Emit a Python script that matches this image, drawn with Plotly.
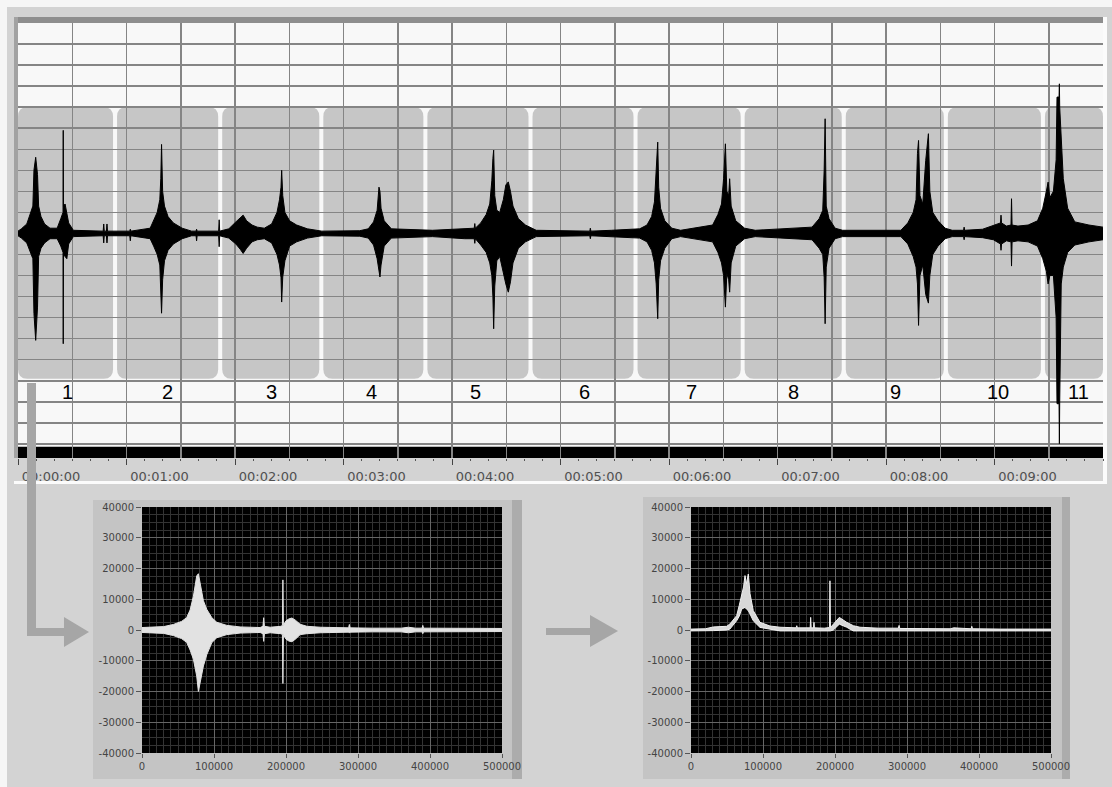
import plotly.graph_objects as go

W, H = 1112, 787

# ---------------- top chart: waveform envelope (time in minutes, amplitude in divisions)
top_t = [0.000, 0.031, 0.081, 0.114, 0.137, 0.147, 0.163, 0.180, 0.190, 0.212, 0.245, 0.295,
         0.361, 0.394, 0.410, 0.415, 0.417, 0.419, 0.434, 0.450, 0.467, 0.510,
         0.785, 0.790, 0.795, 0.815, 0.820, 0.825, 1.030, 1.035, 1.040,
         1.218, 1.250, 1.283, 1.307, 1.316, 1.323, 1.333, 1.350, 1.383, 1.432, 1.513, 1.600,
         1.641, 1.646, 1.651, 1.849, 1.854, 1.859,
         1.943, 2.008, 2.048, 2.075, 2.107, 2.157, 2.205, 2.270,
         2.338, 2.387, 2.410, 2.424, 2.430, 2.440, 2.460, 2.503, 2.568, 2.667, 2.800,
         3.150, 3.228, 3.277, 3.310, 3.327, 3.336, 3.346, 3.375, 3.441, 3.820,
         4.117, 4.205, 4.210, 4.215, 4.265, 4.315, 4.348, 4.367, 4.377, 4.384, 4.394, 4.413,
         4.440, 4.473, 4.496, 4.519, 4.539, 4.562, 4.612, 4.677, 4.776,
         5.270, 5.275, 5.280, 5.470,
         5.730, 5.797, 5.840, 5.866, 5.882, 5.896, 5.905, 5.922, 5.961, 6.026, 6.107,
         6.402, 6.451, 6.484, 6.503, 6.520, 6.533, 6.550, 6.559, 6.573, 6.615, 6.697, 6.795,
         7.318, 7.384, 7.417, 7.430, 7.439, 7.449, 7.475, 7.531, 7.600,
         8.137, 8.201, 8.251, 8.277, 8.290, 8.300, 8.313, 8.339, 8.366, 8.391, 8.404, 8.431,
         8.480, 8.545, 8.610,
         8.715, 8.720, 8.725, 8.890, 8.990, 9.055, 9.060, 9.065, 9.110, 9.152, 9.157, 9.162,
         9.216, 9.310,
         9.396, 9.445, 9.478, 9.494, 9.510, 9.543, 9.568, 9.576, 9.595, 9.598, 9.601, 9.615,
         9.634, 9.674, 9.740, 9.870, 10.000]
top_hi = [0.11, 0.22, 0.45, 1.0, 1.3, 3.0, 3.62, 2.8, 1.3, 0.8, 0.45, 0.25,
          0.25, 0.7, 1.0, 1.0, 4.9, 1.3, 1.4, 1.0, 0.5, 0.15,
          0.11, 0.45, 0.11, 0.11, 0.45, 0.11, 0.11, 0.2, 0.11,
          0.25, 0.6, 1.0, 1.6, 2.6, 4.23, 2.0, 1.3, 0.8, 0.5, 0.25, 0.11,
          0.11, 0.2, 0.11, 0.11, 0.65, 0.11,
          0.22, 0.55, 0.75, 0.87, 0.6, 0.4, 0.3, 0.25,
          0.45, 1.0, 1.6, 2.2, 3.0, 1.8, 1.0, 0.6, 0.4, 0.22, 0.11,
          0.13, 0.22, 0.55, 1.1, 2.2, 2.0, 1.2, 0.6, 0.22, 0.15,
          0.25, 0.25, 0.47, 0.25, 0.5, 0.9, 1.4, 2.5, 3.56, 3.96, 1.8, 1.1,
          1.0, 1.6, 2.3, 2.45, 2.0, 1.3, 0.7, 0.4, 0.15,
          0.11, 0.25, 0.11, 0.15,
          0.22, 0.4, 0.8, 1.5, 2.75, 4.34, 2.2, 1.2, 0.6, 0.25, 0.15,
          0.4, 0.9, 1.4, 2.6, 4.26, 2.0, 1.8, 2.6, 1.3, 0.6, 0.25, 0.15,
          0.3, 0.7, 1.1, 3.0, 5.45, 1.3, 0.7, 0.25, 0.15,
          0.15, 0.5, 1.0, 1.6, 3.8, 4.42, 1.8, 1.4, 3.47, 4.74, 2.0, 1.0,
          0.6, 0.25, 0.15,
          0.15, 0.3, 0.15, 0.2, 0.4, 0.5, 0.87, 0.5, 0.35, 0.4, 1.65, 0.4,
          0.35, 0.4,
          0.6, 1.2, 2.0, 2.44, 1.7, 2.0, 3.5, 6.48, 6.48, 7.11, 6.0, 4.27,
          2.6, 1.2, 0.55, 0.4, 0.3]
top_lo = [-0.11, -0.22, -0.45, -0.9, -1.2, -3.8, -5.08, -3.5, -1.1, -0.7, -0.45, -0.25,
          -0.25, -0.6, -0.9, -0.9, -5.24, -1.0, -1.1, -1.2, -0.5, -0.15,
          -0.11, -0.45, -0.11, -0.11, -0.45, -0.11, -0.11, -0.35, -0.11,
          -0.25, -0.6, -1.0, -1.5, -2.6, -3.79, -2.2, -1.3, -0.8, -0.5, -0.25, -0.11,
          -0.11, -0.35, -0.11, -0.11, -0.63, -0.11,
          -0.22, -0.5, -0.75, -0.95, -0.7, -0.4, -0.3, -0.25,
          -0.45, -1.0, -1.5, -2.1, -3.26, -2.07, -1.3, -0.6, -0.4, -0.22, -0.11,
          -0.13, -0.22, -0.55, -1.2, -1.7, -2.07, -1.5, -0.6, -0.22, -0.15,
          -0.25, -0.25, -0.47, -0.25, -0.55, -0.9, -1.4, -2.0, -3.0, -4.53, -2.5, -1.3,
          -1.1, -1.9, -2.4, -2.79, -2.3, -1.4, -0.7, -0.4, -0.15,
          -0.11, -0.25, -0.11, -0.15,
          -0.22, -0.4, -0.8, -1.4, -2.4, -4.05, -2.2, -1.3, -0.7, -0.25, -0.15,
          -0.4, -0.9, -1.4, -2.0, -3.5, -1.9, -2.2, -2.79, -1.4, -0.6, -0.25, -0.15,
          -0.3, -0.7, -1.0, -2.1, -4.29, -1.6, -0.7, -0.25, -0.15,
          -0.15, -0.5, -1.1, -1.6, -2.4, -4.37, -2.0, -1.5, -2.9, -3.31, -2.0, -1.0,
          -0.6, -0.25, -0.15,
          -0.15, -0.3, -0.15, -0.2, -0.3, -0.5, -0.8, -0.5, -0.35, -0.4, -1.55, -0.4,
          -0.35, -0.4,
          -0.6, -1.2, -1.8, -2.4, -2.0, -2.0, -4.0, -8.09, -8.09, -9.99, -8.0, -2.4,
          -1.6, -0.9, -0.55, -0.4, -0.3]

seg_start = [0.0, 0.913, 1.882, 2.814, 3.773, 4.742, 5.710, 6.697, 7.629, 8.570, 9.465]
seg_end = [0.876, 1.845, 2.777, 3.736, 4.705, 5.673, 6.661, 7.592, 8.533, 9.428, 10.0]
seg_labels = ["1", "2", "3", "4", "5", "6", "7", "8", "9", "10", "11"]
seg_label_t = [0.452, 1.375, 2.334, 3.256, 4.216, 5.221, 6.208, 7.150, 8.090, 9.036, 9.770]
seg_top, seg_bottom, seg_label_y = 6.0, -6.9, -7.55

time_ticks = [0, 1, 2, 3, 4, 5, 6, 7, 8, 9]
time_tick_text = ["00:00:00", "00:01:00", "00:02:00", "00:03:00", "00:04:00",
                  "00:05:00", "00:06:00", "00:07:00", "00:08:00", "00:09:00"]

# ---------------- lower left: raw waveform of segment 1 (samples, amplitude)
wave_x = [0, 20000, 30000, 43500, 55000, 62000, 66800, 71400, 74000, 76000, 78300, 80700,
          83000, 85300, 90000, 97000, 103900, 117800, 136300, 164000, 168000, 169000, 170000,
          178000, 193000, 195000, 195700, 196400, 200000, 204000, 208200, 213000, 219700,
          229000, 247500, 275400, 287000, 288000, 289000, 320000, 360000, 370000, 380000,
          389000, 390000, 391000, 420000, 460000, 500000]
wave_hi = [800, 900, 1100, 1800, 2800, 4000, 6500, 11000, 14500, 17600, 18300, 15000,
           12000, 9500, 6700, 4000, 2500, 1500, 1000, 800, 1200, 4000, 1200,
           900, 1200, 1500, 16300, 1500, 3000, 3600, 3900, 3200, 1850,
           1200, 900, 700, 700, 1800, 700, 600, 600, 900, 600,
           600, 1500, 600, 600, 500, 500]
wave_lo = [-800, -900, -1100, -1800, -2800, -4000, -6500, -9500, -12500, -15000, -20000, -17200,
           -14000, -11700, -8000, -4100, -2500, -1500, -1000, -800, -1200, -3700, -1200,
           -900, -1200, -1500, -17400, -1500, -3000, -3600, -3800, -3000, -1500,
           -1200, -900, -700, -700, -1000, -700, -600, -600, -900, -600,
           -600, -1200, -600, -600, -500, -500]

# ---------------- lower right: envelope of segment 1
env_x = [0, 20000, 31000, 49600, 54000, 63400, 67000, 70400, 73000, 75000, 77000, 79600,
         82000, 86500, 95800, 109700, 123600, 146000, 146900, 147800, 165500, 166200, 166900,
         170200, 170800, 171400, 185000, 192300, 193000, 193700, 197700, 206000, 216200,
         225500, 234700, 260000, 288000, 289000, 290000, 330000, 360000, 365000, 389000,
         390000, 391000, 430000, 500000]
env_hi = [300, 400, 1000, 1200, 1950, 4650, 8000, 11700, 14000, 17700, 15000, 18200,
          11800, 6300, 2500, 1300, 900, 700, 1400, 700, 700, 4100, 700,
          700, 2500, 700, 600, 800, 16000, 800, 1900, 4100, 2500,
          1400, 900, 600, 600, 1500, 500, 400, 400, 700, 400,
          1200, 400, 300, 300]
env_lo = [-300, -300, -200, 0, 300, 3000, 4500, 6800, 7200, 7350, 6800, 6300,
          5200, 3000, 850, 300, -300, -300, -300, -300, -300, -300, -300,
          -300, -300, -300, -300, -300, -300, -300, 0, 1900, 900,
          -300, -300, -300, -300, -300, -300, -300, -300, -300, -300,
          -300, -300, -300, -300]

amp_ticks = [-40000, -30000, -20000, -10000, 0, 10000, 20000, 30000, 40000]
amp_tick_text = [str(v) for v in amp_ticks]
sample_ticks = [0, 100000, 200000, 300000, 400000, 500000]
sample_tick_text = [str(v) for v in sample_ticks]

assert len(top_t) == len(top_hi) == len(top_lo)
assert len(wave_x) == len(wave_hi) == len(wave_lo)
assert len(env_x) == len(env_hi) == len(env_lo)


def fx(x):
    return x / W


def fy(y):
    return 1 - y / H


def prect(x0, y0, x1, y1, color, layer="below"):
    return dict(type="rect", xref="paper", yref="paper", x0=fx(x0), x1=fx(x1),
                y0=fy(y1), y1=fy(y0), fillcolor=color, line=dict(width=0), layer=layer)


def ppoly(points, color):
    d = "M " + " L ".join(f"{fx(x):.5f},{fy(y):.5f}" for x, y in points) + " Z"
    return dict(type="path", xref="paper", yref="paper", path=d, fillcolor=color,
                line=dict(width=0), layer="above")


fig = go.Figure()

# top waveform
fig.add_trace(go.Scatter(x=top_t, y=top_hi, mode="lines", line=dict(color="black", width=1),
                         hoverinfo="skip", showlegend=False, xaxis="x", yaxis="y"))
fig.add_trace(go.Scatter(x=top_t, y=top_lo, mode="lines", line=dict(color="black", width=1),
                         fill="tonexty", fillcolor="black",
                         hoverinfo="skip", showlegend=False, xaxis="x", yaxis="y"))
fig.add_trace(go.Scatter(x=[0, 10], y=[None, None], mode="lines", hoverinfo="skip",
                         showlegend=False, xaxis="x2", yaxis="y"))

# lower left waveform
fig.add_trace(go.Scatter(x=wave_x, y=wave_hi, mode="lines", line=dict(color="#e2e2e2", width=1),
                         hoverinfo="skip", showlegend=False, xaxis="x3", yaxis="y3"))
fig.add_trace(go.Scatter(x=wave_x, y=wave_lo, mode="lines", line=dict(color="#e2e2e2", width=1),
                         fill="tonexty", fillcolor="#e2e2e2",
                         hoverinfo="skip", showlegend=False, xaxis="x3", yaxis="y3"))

# lower right envelope
fig.add_trace(go.Scatter(x=env_x, y=env_hi, mode="lines", line=dict(color="#f0f0f0", width=1),
                         hoverinfo="skip", showlegend=False, xaxis="x4", yaxis="y4"))
fig.add_trace(go.Scatter(x=env_x, y=env_lo, mode="lines", line=dict(color="#f0f0f0", width=1),
                         fill="tonexty", fillcolor="#d8d8d8",
                         hoverinfo="skip", showlegend=False, xaxis="x4", yaxis="y4"))

shapes = []
# background frames
shapes.append(prect(7, 7, 1112, 787, "#d3d3d3"))
shapes.append(prect(15, 17, 1104, 23, "#8e8e8e"))
shapes.append(prect(14, 17, 18, 458, "#a2a2a2"))
shapes.append(prect(1103, 17, 1107, 483, "#fbfbfb"))
shapes.append(prect(14, 481, 1107, 484, "#fbfbfb"))
shapes.append(prect(18, 23, 1103, 458, "#f8f8f8"))
# lower-left panel
shapes.append(prect(93, 500, 522, 779, "#c4c4c4"))
shapes.append(prect(512, 500, 522, 779, "#acacac"))
shapes.append(prect(142, 507, 502, 753, "#000000"))
# lower-right panel
shapes.append(prect(643, 497, 1070, 779, "#c4c4c4"))
shapes.append(prect(1062, 497, 1070, 779, "#acacac"))
shapes.append(prect(691, 507, 1051, 753, "#000000"))

# rounded segment boxes in data coordinates (below grid)
rx, ry = 0.085, 0.45
for s, e in zip(seg_start, seg_end):
    y0, y1 = seg_bottom, seg_top
    d = (f"M {s+rx},{y0} L {e-rx},{y0} Q {e},{y0} {e},{y0+ry} L {e},{y1-ry} "
         f"Q {e},{y1} {e-rx},{y1} L {s+rx},{y1} Q {s},{y1} {s},{y1-ry} "
         f"L {s},{y0+ry} Q {s},{y0} {s+rx},{y0} Z")
    shapes.append(dict(type="path", xref="x", yref="y", path=d, fillcolor="#c6c6c6",
                       line=dict(width=0), layer="below"))
# black time bar
shapes.append(dict(type="rect", xref="x", yref="y", x0=0, x1=10, y0=-10.67, y1=-10.14,
                   fillcolor="black", line=dict(width=0), layer="below"))

# arrows
shapes.append(ppoly([(27, 383), (36, 383), (36, 628), (64, 628), (64, 617), (89, 632),
                     (64, 647), (64, 636), (27, 636)], "#a6a6a6"))
shapes.append(ppoly([(546, 628), (590, 628), (590, 615), (618, 631), (590, 647),
                     (590, 635), (546, 635)], "#a6a6a6"))

annotations = []
for lab, t in zip(seg_labels, seg_label_t):
    annotations.append(dict(x=t, y=seg_label_y, xref="x", yref="y", text=lab, showarrow=False,
                            font=dict(family="Liberation Sans", size=20, color="black")))

grid_top = "#858585"
low_font = dict(family="DejaVu Sans", size=10, color="#444444")


def low_x(domain, anchor):
    return dict(domain=domain, range=[0, 500000], anchor=anchor, automargin=False,
                tickmode="array", tickvals=sample_ticks, ticktext=sample_tick_text,
                ticks="outside", ticklen=4, tickcolor="#555555", tickfont=low_font,
                showgrid=True, gridcolor="#666666", gridwidth=1,
                minor=dict(tickmode="linear", tick0=0, dtick=10000, showgrid=True,
                           gridcolor="#333333", gridwidth=1, ticks=""),
                zeroline=False, showline=False, fixedrange=True)


def low_y(anchor):
    return dict(domain=[fy(753), fy(507)], range=[-40000, 40000], anchor=anchor,
                automargin=False,
                tickmode="array", tickvals=amp_ticks, ticktext=amp_tick_text,
                ticks="outside", ticklen=5, tickcolor="#555555", tickfont=low_font,
                showgrid=True, gridcolor="#666666", gridwidth=1,
                minor=dict(tickmode="linear", tick0=0, dtick=2500, showgrid=True,
                           gridcolor="#333333", gridwidth=1, ticks=""),
                zeroline=False, showline=False, fixedrange=True)


fig.update_layout(
    template="none",
    width=W, height=H, autosize=False,
    margin=dict(l=0, r=0, t=0, b=0, pad=0, autoexpand=False),
    paper_bgcolor="#f6f6f6", plot_bgcolor="rgba(0,0,0,0)",
    showlegend=False,
    shapes=shapes, annotations=annotations,
    xaxis=dict(domain=[fx(18), fx(1103)], range=[0, 10], anchor="y", automargin=False,
               showgrid=True, gridcolor=grid_top, gridwidth=1.5, tick0=0, dtick=0.5,
               showticklabels=False, ticks="", zeroline=False, showline=False, fixedrange=True),
    yaxis=dict(domain=[fy(458), fy(23)], range=[-10.67, 10], anchor="x", automargin=False,
               showgrid=True, gridcolor=grid_top, gridwidth=1.5, tick0=0, dtick=1,
               showticklabels=False, ticks="", zeroline=False, showline=False, fixedrange=True),
    xaxis2=dict(overlaying="x", anchor="y", side="bottom", range=[0, 10], showgrid=False,
                automargin=False,
                tickmode="array", tickvals=time_ticks, ticktext=time_tick_text,
                ticks="outside", ticklen=6, tickwidth=1, tickcolor="#444444",
                minor=dict(tickmode="linear", tick0=0, dtick=1 / 6, ticks="outside",
                           ticklen=2, tickwidth=1, tickcolor="#555555", showgrid=False),
                ticklabelshift=33, ticklabelstandoff=0,
                tickfont=dict(family="DejaVu Sans", size=13, color="#505050"),
                zeroline=False, showline=False, fixedrange=True),
    xaxis3=low_x([fx(142), fx(502)], "y3"),
    yaxis3=low_y("x3"),
    xaxis4=low_x([fx(691), fx(1051)], "y4"),
    yaxis4=low_y("x4"),
)

fig.write_html("out.html", config={"displayModeBar": False, "staticPlot": True},
               post_script="document.body.style.margin='0';"
                           "document.body.style.overflow='hidden';")
